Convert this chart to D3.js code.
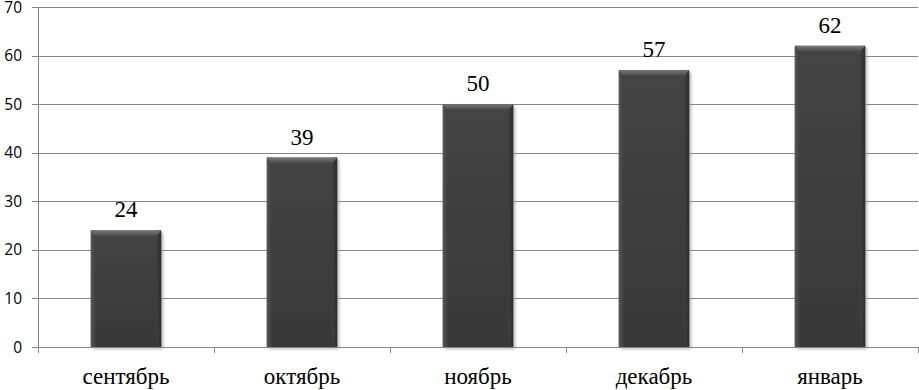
<!DOCTYPE html>
<html>
<head>
<meta charset="utf-8">
<script src="https://cdn.jsdelivr.net/npm/d3@7"></script>
<style>
  body { margin: 0; background: #fff; }
  svg { display: block; }
</style>
</head>
<body>
<div id="mount"></div>
<script>
var months = ['сентябрь', 'октябрь', 'ноябрь', 'декабрь', 'январь'];
var values = [24, 39, 50, 57, 62];
var yTicks = [0, 10, 20, 30, 40, 50, 60, 70];

(function () {
  var width = 919, height = 390;
  var plotLeft = 38, plotRight = 918, plotTop = 7, plotBottom = 347;

  var svg = d3.select('#mount').append('svg')
    .attr('width', width)
    .attr('height', height);

  var x = d3.scaleBand().domain(months).range([plotLeft, plotRight]).padding(0);
  var y = d3.scaleLinear().domain([0, 70]).range([plotBottom, plotTop]);
  var barW = x.bandwidth() * 0.4;

  var defs = svg.append('defs');
  var shadow = defs.append('filter').attr('id', 'shadow')
    .attr('x', '-20%').attr('y', '-20%').attr('width', '140%').attr('height', '140%');
  shadow.append('feGaussianBlur').attr('stdDeviation', 1.5);

  var topGrad = defs.append('linearGradient').attr('id', 'topBevel')
    .attr('x1', 0).attr('y1', 0).attr('x2', 0).attr('y2', 1);
  topGrad.append('stop').attr('offset', '0%').attr('stop-color', '#7a7a7a');
  topGrad.append('stop').attr('offset', '100%').attr('stop-color', '#454545');

  var sideL = defs.append('linearGradient').attr('id', 'leftBevel')
    .attr('x1', 0).attr('y1', 0).attr('x2', 1).attr('y2', 0);
  sideL.append('stop').attr('offset', '0%').attr('stop-color', '#555');
  sideL.append('stop').attr('offset', '100%').attr('stop-color', '#3f3f3f');

  var sideR = defs.append('linearGradient').attr('id', 'rightBevel')
    .attr('x1', 0).attr('y1', 0).attr('x2', 1).attr('y2', 0);
  sideR.append('stop').attr('offset', '0%').attr('stop-color', '#3f3f3f');
  sideR.append('stop').attr('offset', '100%').attr('stop-color', '#2e2e2e');

  var bodyGrad = defs.append('linearGradient').attr('id', 'body')
    .attr('x1', 0).attr('y1', 0).attr('x2', 0).attr('y2', 1);
  bodyGrad.append('stop').attr('offset', '0%').attr('stop-color', '#444');
  bodyGrad.append('stop').attr('offset', '100%').attr('stop-color', '#383838');

  // gridlines
  svg.append('g').selectAll('line')
    .data(yTicks)
    .enter().append('line')
    .attr('x1', plotLeft - 6)
    .attr('x2', plotRight)
    .attr('y1', function (d) { return Math.round(y(d)) + 0.5; })
    .attr('y2', function (d) { return Math.round(y(d)) + 0.5; })
    .attr('stroke', '#868686')
    .attr('stroke-width', 1);

  // y axis line
  svg.append('line')
    .attr('x1', plotLeft + 0.5).attr('x2', plotLeft + 0.5)
    .attr('y1', plotTop).attr('y2', plotBottom + 1)
    .attr('stroke', '#868686');

  // y labels
  svg.append('g').selectAll('text')
    .data(yTicks)
    .enter().append('text')
    .attr('x', 22)
    .attr('y', function (d) { return y(d) + 5.5; })
    .attr('text-anchor', 'end')
    .attr('font-family', 'Open Sans, sans-serif')
    .attr('font-size', 15.5)
    .attr('fill', '#000')
    .text(function (d) { return d; });

  // x category ticks
  var bounds = months.map(function (m) { return x(m); }).concat([plotRight]);
  svg.append('g').selectAll('line')
    .data(bounds)
    .enter().append('line')
    .attr('x1', function (d) { return Math.round(d) + 0.5; })
    .attr('x2', function (d) { return Math.round(d) + 0.5; })
    .attr('y1', plotBottom)
    .attr('y2', plotBottom + 6)
    .attr('stroke', '#868686');

  // bars
  var bars = svg.append('g').selectAll('g')
    .data(values)
    .enter().append('g')
    .attr('transform', function (d, i) {
      return 'translate(' + (x(months[i]) + (x.bandwidth() - barW) / 2) + ',' + y(d) + ')';
    });

  bars.append('rect')
    .attr('x', 2).attr('y', 2)
    .attr('width', barW)
    .attr('height', function (d) { return plotBottom - y(d); })
    .attr('fill', '#9a9a9a')
    .attr('opacity', 0.7)
    .attr('filter', 'url(#shadow)');

  bars.append('rect')
    .attr('width', barW)
    .attr('height', function (d) { return plotBottom - y(d); })
    .attr('fill', 'url(#body)');

  bars.append('rect')
    .attr('width', 5)
    .attr('height', function (d) { return plotBottom - y(d); })
    .attr('fill', 'url(#leftBevel)');

  bars.append('rect')
    .attr('x', barW - 5)
    .attr('width', 5)
    .attr('height', function (d) { return plotBottom - y(d); })
    .attr('fill', 'url(#rightBevel)');

  bars.append('path')
    .attr('d', 'M0,0 L' + barW + ',0 L' + (barW - 5) + ',6 L5,6 Z')
    .attr('fill', 'url(#topBevel)');

  // x axis line
  svg.append('line')
    .attr('x1', plotLeft).attr('x2', plotRight)
    .attr('y1', plotBottom + 0.5).attr('y2', plotBottom + 0.5)
    .attr('stroke', '#868686');

  // value labels
  svg.append('g').selectAll('text')
    .data(values)
    .enter().append('text')
    .attr('x', function (d, i) { return x(months[i]) + x.bandwidth() / 2; })
    .attr('y', function (d) { return y(d) - 13; })
    .attr('text-anchor', 'middle')
    .attr('font-family', 'Liberation Serif, Times New Roman, serif')
    .attr('font-size', 23)
    .attr('fill', '#000')
    .text(function (d) { return d; });

  // category labels
  svg.append('g').selectAll('text')
    .data(months)
    .enter().append('text')
    .attr('x', function (d) { return x(d) + x.bandwidth() / 2; })
    .attr('y', 383.5)
    .attr('text-anchor', 'middle')
    .attr('font-family', 'Liberation Serif, Times New Roman, serif')
    .attr('font-size', 23)
    .attr('fill', '#000')
    .text(function (d) { return d; });
})();
</script>
</body>
</html>
